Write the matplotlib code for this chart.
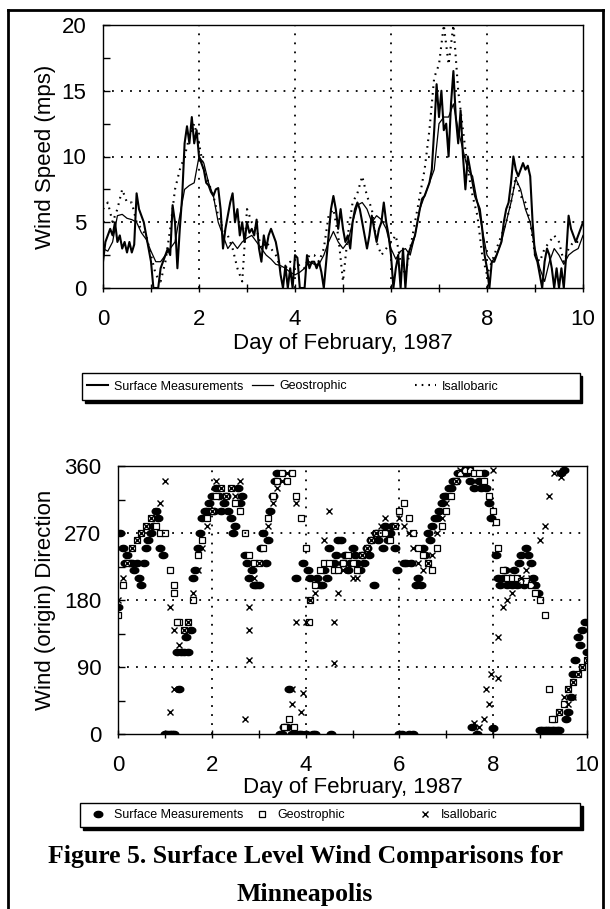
import numpy as np
import matplotlib
matplotlib.use("Agg")
from matplotlib import pyplot as plt
from matplotlib.lines import Line2D
from matplotlib.patches import Rectangle

plt.rcParams['font.family'] = ['Liberation Sans', 'DejaVu Sans']

# ---- top panel: wind speed (mps) ----
days_fine = np.linspace(0, 10, 201)     # every 0.05 day
days_coarse = np.linspace(0, 10, 101)   # every 0.1 day

surface_speed = [
    2.0, 3.5, 4.0, 4.5, 4.0, 5.0, 3.5, 4.0, 3.0, 3.5,
    2.7, 3.5, 2.7, 3.3, 7.2, 6.0, 5.5, 5.0, 4.0, 3.0,
    2.0, 0.0, 0.0, 0.0, 1.5, 2.0, 2.5, 3.0, 2.5, 6.3,
    5.0, 1.5, 4.5, 7.0, 11.0, 12.3, 11.0, 13.0, 11.0, 12.0,
    10.0, 9.5, 9.0, 8.0, 7.8, 7.3, 7.0, 7.5, 7.6, 6.0,
    3.0, 4.5, 5.5, 6.5, 7.2, 5.0, 6.0, 4.0, 5.0, 3.5,
    5.0, 4.2, 4.5, 4.0, 5.2, 3.0, 2.0, 4.0, 3.0, 4.0,
    4.5, 4.0, 3.5, 2.5, 1.0, 0.0, 1.7, 0.0, 1.5, 0.0,
    2.5, 2.3, 0.0, 0.0, 0.0, 2.5, 1.5, 2.0, 2.0, 1.5,
    2.0, 1.2, 0.0, 2.0, 4.0, 6.0, 7.0, 6.0, 4.5, 6.0,
    4.5, 3.5, 4.0, 3.0, 5.0, 6.0, 6.5, 6.0, 5.0, 4.0,
    3.0, 4.0, 5.5, 4.5, 3.5, 4.5, 5.0, 6.5, 5.0, 4.0,
    2.5, 0.0, 1.5, 2.5, 0.0, 3.0, 0.0, 2.5, 3.0, 3.5,
    4.0, 5.0, 6.0, 6.8, 7.0, 7.5, 8.0, 9.0, 12.0, 15.5,
    13.0, 15.0, 12.0, 12.5, 10.0, 14.0, 16.5, 13.0, 11.0, 13.5,
    10.0, 7.5, 10.0, 9.0, 8.0, 7.0, 6.5, 6.0, 4.5, 2.5,
    1.5, 0.0, 2.0, 2.0, 2.5, 3.0, 3.5, 5.0, 6.0, 6.5,
    8.0, 10.0, 9.0, 8.5, 9.0, 9.5, 9.0, 9.3, 8.5, 5.0,
    2.5, 2.0, 1.0, 0.0, 2.0, 3.0, 2.5, 1.5, 0.0, 1.5,
    0.0, 1.5, 0.0, 2.5, 5.5, 4.5, 4.0, 3.5, 4.0, 4.5,
    5.0,
]

geostrophic_speed = [
    3.0, 2.8, 3.5, 5.5, 5.6, 5.3, 5.2, 5.0, 4.2, 3.7,
    2.8, 2.0, 2.0, 2.5, 3.0, 3.5, 5.5, 7.5, 7.8, 8.0,
    10.0, 9.5, 8.0, 7.0, 5.0, 4.0, 3.0, 3.5, 3.0, 3.5,
    3.8, 4.0, 3.5, 3.0, 2.5, 2.2, 1.8, 1.7, 1.5, 1.2,
    1.0, 1.2, 1.5, 2.0, 1.8, 1.8, 2.5, 3.5, 4.3, 3.5,
    3.0, 3.5, 5.0, 6.3, 6.5, 6.0, 5.0, 5.5, 5.2, 4.5,
    3.0, 2.2, 2.8, 3.0, 2.5, 4.0, 6.0, 7.0, 8.0, 9.0,
    12.5, 13.0, 13.0, 14.0, 12.0, 10.5, 9.0, 8.5, 6.5, 4.5,
    2.5, 2.0, 2.5, 3.5, 5.0, 6.5, 8.3, 7.5, 6.0, 5.0,
    3.0, 1.5, 0.5, 2.0, 3.0, 2.5, 1.8, 2.5, 2.8, 3.0,
    4.0,
]

isallobaric_speed = [
    6.0, 6.5, 5.0, 6.0, 7.5, 6.5, 6.5, 5.0, 4.5, 4.0,
    2.5, 1.0, 0.5, 2.0, 4.5, 7.5, 9.0, 10.0, 11.5, 12.5,
    11.0, 9.0, 8.0, 7.0, 5.5, 4.5, 4.0, 3.0, 1.5, 0.5,
    6.0, 5.0, 4.5, 3.0, 3.5, 3.0, 2.5, 1.5, 1.5, 2.0,
    1.5, 1.8, 1.5, 2.5, 2.5, 2.0, 3.0, 5.5, 6.0, 4.0,
    0.5, 4.0, 6.5, 7.2, 8.5, 7.0, 6.0, 3.5, 2.5, 3.0,
    3.5, 4.0, 2.0, 1.0, 3.0, 5.0, 7.0, 9.0, 12.0, 16.0,
    17.0, 20.0, 17.0, 20.0, 15.0, 12.0, 9.0, 7.0, 5.5, 2.5,
    1.0, 2.0, 3.0, 4.0, 5.0, 6.5, 8.5, 7.0, 6.5, 5.0,
    2.5, 2.0, 3.0, 3.5, 4.0, 3.5, 2.0, 3.0, 3.5, 3.5,
    3.5,
]

# ---- bottom panel: wind (origin) direction, degrees ----
surface_dir = [
    170, 270, 250, 230, 240, 230, 230, 220, 230, 210,
    200, 230, 250, 260, 270, 280, 300, 290, 250, 240,
    0, 0, 0, 0, 0, 110, 60, 110, 110, 130,
    110, 140, 210, 220, 250, 270, 290, 300, 300, 310,
    320, 300, 330, 320, 300, 310, 320, 300, 290, 270,
    280, 330, 310, 320, 240, 230, 210, 220, 200, 200,
    200, 250, 270, 230, 260, 300, 320, 340, 350, 0,
    0, 10, 10, 60, 0, 0, 210, 0, 0, 230,
    0, 220, 210, 0, 0, 210, 200, 200, 220, 210,
    250, 0, 230, 240, 260, 260, 230, 240, 220, 230,
    250, 240, 230, 220, 240, 230, 250, 240, 260, 200,
    270, 260, 270, 250, 280, 260, 270, 280, 250, 220,
    0, 0, 230, 230, 0, 230, 0, 200, 210, 200,
    250, 240, 270, 260, 280, 290, 290, 300, 310, 320,
    320, 330, 330, 340, 340, 350, 350, 350, 350, 350,
    340, 10, 330, 0, 340, 330, 350, 330, 310, 290,
    8, 240, 210, 200, 210, 220, 200, 210, 200, 220,
    200, 230, 240, 200, 250, 240, 230, 210, 200, 190,
    6, 6, 6, 6, 6, 6, 6, 6, 6, 350,
    355, 20, 30, 50, 80, 100, 130, 120, 140, 150,
    110,
]

geostrophic_dir = [
    160, 200, 230, 250, 260, 270, 280, 290, 280, 270,
    270, 220, 200, 150, 140, 150, 180, 240, 260, 290,
    300, 320, 330, 320, 330, 310, 300, 270, 240, 230,
    230, 250, 290, 320, 340, 350, 340, 350, 320, 290,
    250, 180, 200, 220, 230, 230, 220, 220, 230, 240,
    230, 220, 240, 250, 260, 270, 270, 270, 260, 280,
    300, 310, 290, 270, 250, 240, 230, 220, 250, 280,
    300, 320, 340, 350, 355, 355, 350, 350, 340, 320,
    300, 250, 220, 210, 210, 210, 205, 205, 200, 190,
    180, 160, 60, 20, 30, 40, 60, 70, 80, 90,
    100,
]
geo_extra_days = [1.2, 1.25, 3.55, 3.65, 3.75, 4.07, 8.05, 9.25]
geo_extra_dir = [190, 150, 10, 20, 10, 150, 285, 20]

isallobaric_dir = [
    180, 210, 230, 250, 260, 270, 280, 290, 300, 310,
    340, 170, 140, 120, 140, 150, 190, 220, 250, 280,
    300, 340, 330, 320, 330, 320, 340, 20, 170, 210,
    230, 270, 280, 310, 330, 340, 350, 40, 310, 30,
    150, 180, 190, 200, 260, 300, 150, 190, 220, 230,
    210, 210, 240, 250, 260, 270, 280, 290, 270, 280,
    290, 280, 270, 250, 230, 220, 230, 240, 270, 290,
    310, 330, 340, 355, 360, 360, 15, 10, 20, 40,
    355, 130, 170, 180, 190, 200, 210, 220, 210, 200,
    260, 280, 320, 350, 30, 50, 60, 70, 80, 90,
    100,
]
isal_extra_days = [1.1, 1.2, 2.8, 2.8, 3.7, 3.8, 3.95, 4.6, 7.85, 7.95, 8.1, 9.45, 9.6, 9.7]
isal_extra_dir = [30, 60, 140, 100, 60, 150, 55, 95, 60, 80, 75, 345, 40, 50]

day_ticks = [0, 2, 4, 6, 8, 10]

fig = plt.figure(figsize=(6.1, 9.09), dpi=100)
W, H = 610.0, 909.0

grid_style = dict(color='black', linestyle=(0, (1.0, 4.0)), linewidth=1.3)


def style_axes(ax, pad):
    for s in ax.spines.values():
        s.set_linewidth(1.0)
    ax.set_xlim(0, 10)
    ax.set_xticks(day_ticks)
    ax.set_xticks([1, 3, 5, 7, 9], minor=True)
    ax.tick_params(axis='x', which='both', direction='inout', length=6, width=1,
                   labelsize=16, pad=pad)
    ax.tick_params(axis='y', which='both', direction='in', length=5, width=1,
                   labelsize=16, pad=12)


def boxed_legend(handles, x_cols, box):
    # box = (left, top, right, bottom) in pixels from the top-left corner
    left, top, right, bottom = box
    fig.add_artist(Rectangle((left / W + 2.5 / W, 1 - bottom / H - 2.5 / H),
                             (right - left) / W, (bottom - top) / H,
                             transform=fig.transFigure, facecolor='black',
                             edgecolor='black', lw=1, zorder=1))
    fig.add_artist(Rectangle((left / W, 1 - bottom / H),
                             (right - left) / W, (bottom - top) / H,
                             transform=fig.transFigure, facecolor='white',
                             edgecolor='black', lw=1, zorder=2))
    yc = 1 - (top + bottom) / 2 / H
    for h, xc in zip(handles, x_cols):
        leg = fig.legend(handles=[h], loc='center left', bbox_to_anchor=(xc / W, yc),
                         bbox_transform=fig.transFigure, frameon=False, fontsize=9,
                         handlelength=1.7, handletextpad=0.45, borderpad=0,
                         borderaxespad=0)
        leg.set_zorder(3)


# ---------------- top panel ----------------
ax1 = fig.add_axes([103 / W, 1 - 288 / H, (583 - 103) / W, (288 - 25) / H])
ax1.plot(days_fine, surface_speed, color='black', lw=1.5, label='Surface Measurements')
ax1.plot(days_coarse, geostrophic_speed, color='black', lw=0.9, label='Geostrophic')
ax1.plot(days_coarse, isallobaric_speed, color='black', lw=1.5,
         linestyle=(0, (0.8, 2.4)), label='Isallobaric')
ax1.set_ylim(0, 20)
ax1.set_yticks([0, 5, 10, 15, 20])
ax1.set_yticks([2.5, 7.5, 12.5, 17.5], minor=True)
style_axes(ax1, 12)
for d in [2, 4, 6, 8]:
    ax1.axvline(d, **grid_style)
for v in [5, 10, 15]:
    ax1.axhline(v, **grid_style)
ax1.set_xlabel('Day of February, 1987', fontsize=16, labelpad=2)
ax1.set_ylabel('Wind Speed (mps)', fontsize=16, labelpad=4)

boxed_legend(ax1.get_lines()[:3], [87, 252, 415], (82, 373, 580, 400))

# ---------------- bottom panel ----------------
theta = np.linspace(0, 2 * np.pi, 40)
ellipse = list(zip(np.cos(theta), 0.72 * np.sin(theta)))

ax2 = fig.add_axes([118 / W, 1 - 734 / H, (587 - 118) / W, (734 - 466) / H])
ax2.plot(days_fine, surface_dir, ls='none', marker=ellipse, ms=6.2,
         color='black', label='Surface Measurements')
ax2.plot(np.concatenate([days_coarse, geo_extra_days]),
         list(geostrophic_dir) + list(geo_extra_dir), ls='none', marker='s', ms=4.8,
         mfc='white', mec='black', mew=0.9, label='Geostrophic')
ax2.plot(np.concatenate([days_coarse, isal_extra_days]),
         list(isallobaric_dir) + list(isal_extra_dir), ls='none', marker='x', ms=4.5,
         mec='black', mew=1.0, label='Isallobaric')
ax2.set_ylim(0, 360)
ax2.set_yticks([0, 90, 180, 270, 360])
ax2.set_yticks([45, 135, 225, 315], minor=True)
style_axes(ax2, 12)
for d in [2, 4, 6, 8]:
    ax2.axvline(d, **grid_style)
for v in [90, 180, 270]:
    ax2.axhline(v, **grid_style)
ax2.set_xlabel('Day of February, 1987', fontsize=16, labelpad=1)
ax2.set_ylabel('Wind (origin) Direction', fontsize=16, labelpad=6)

boxed_legend(ax2.get_lines()[:3], [87, 251, 414], (80, 803, 580, 827))

# caption
fig.text(0.5, 1 - 856 / H, 'Figure 5. Surface Level Wind Comparisons for',
         ha='center', va='center', family='Liberation Serif', weight='bold', size=18.5)
fig.text(0.5, 1 - 894 / H, 'Minneapolis',
         ha='center', va='center', family='Liberation Serif', weight='bold', size=18.5)

# page frame
x_l, x_r, y_t = 8 / W, 603 / W, 1 - 10 / H
for xs, ys in [([x_l, x_l], [0, y_t]), ([x_l, x_r], [y_t, y_t]), ([x_r, x_r], [0, y_t])]:
    fig.add_artist(Line2D(xs, ys, transform=fig.transFigure, color='black', lw=2))

fig.savefig('out.png', dpi=100)
